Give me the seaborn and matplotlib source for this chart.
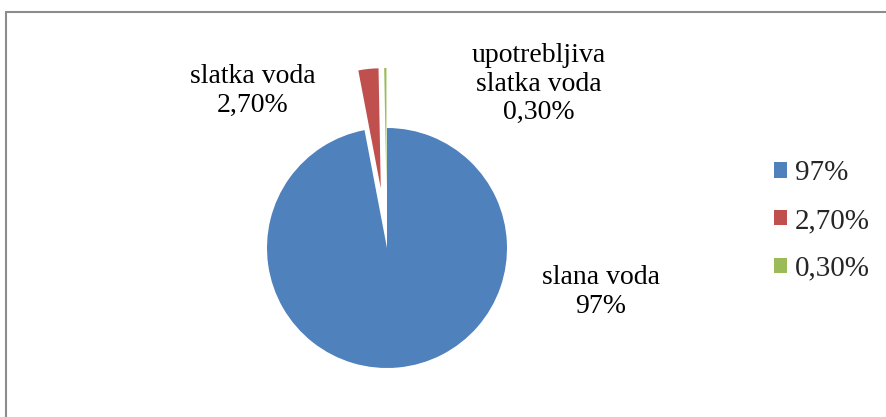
import matplotlib
matplotlib.use("Agg")
import matplotlib.pyplot as plt
import seaborn as sns
from matplotlib.patches import Rectangle

# data
categories = ["slana voda", "slatka voda", "upotrebljiva\nslatka voda"]
values = [97, 2.7, 0.3]
value_labels = ["97%", "2,70%", "0,30%"]
legend_labels = ["97%", "2,70%", "0,30%"]
colors = ["#4F81BD", "#C0504D", "#9BBB59"]

sns.set_theme(style="white")
plt.rcParams["font.family"] = ["Liberation Serif", "DejaVu Serif"]

W, H = 886, 417
fig = plt.figure(figsize=(W / 100, H / 100), dpi=100)
ax = fig.add_axes([0, 0, 1, 1])

wedges, _ = ax.pie(
    values,
    colors=colors,
    startangle=90,
    counterclock=False,
    explode=[0, 0.5, 0.5],
    radius=1,
    wedgeprops=dict(linewidth=0),
)

# pie radius 120 px, centre at (387, 248) from top-left
r_px = 120
cx, cy = 387, 248
ax.set_xlim(-cx / r_px, (W - cx) / r_px)
ax.set_ylim(-(H - cy) / r_px, cy / r_px)
ax.set_aspect("equal", adjustable="datalim")
ax.axis("off")


def px(x, y):
    return ((x - cx) / r_px, (cy - y) / r_px)


label_pos = [(601, 292), (253, 91), (539, 84)]
for cat, val, (lx, ly) in zip(categories, value_labels, label_pos):
    ax.text(*px(lx, ly), f"{cat}\n{val}", ha="center", va="center",
            fontsize=20, color="black", linespacing=1.18)

leg = fig.legend(
    wedges,
    legend_labels,
    loc="center left",
    bbox_to_anchor=(748 / W, 1 - 221 / H),
    frameon=False,
    fontsize=21,
    handlelength=0.45,
    handleheight=0.45,
    handletextpad=0.25,
    labelspacing=0.75,
)

# outer frame
fig.patches.append(Rectangle((6 / W, -0.1), 1.1, (H - 12) / H + 0.1,
                             transform=fig.transFigure, fill=False,
                             edgecolor="#8c8c8c", linewidth=1.5))

fig.savefig("out.png", dpi=100)
